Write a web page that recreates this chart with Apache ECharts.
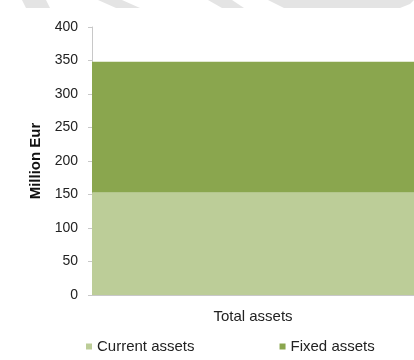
<!DOCTYPE html>
<html><head><meta charset="utf-8">
<script src="https://cdn.jsdelivr.net/npm/echarts@6/dist/echarts.min.js"></script>
<style>html,body{margin:0;padding:0;background:#fff}#c{width:414px;height:360px}</style>
</head><body><div id="c"></div>
<script>
var categories = ['Total assets'];
var currentAssets = [153];
var fixedAssets = [195];
var yTicks = [0, 50, 100, 150, 200, 250, 300, 350, 400];

var chart = echarts.init(document.getElementById('c'));
var font = 'Liberation Sans, Arial, sans-serif';
chart.setOption({
  animation: false,
  backgroundColor: '#ffffff',
  graphic: [
    {type:'polygon', shape:{points:[[22,0],[46,0],[50,8],[26,8]]}, style:{fill:'#e4e4e4'}},
    {type:'polygon', shape:{points:[[98,0],[122,0],[140,8],[116,8]]}, style:{fill:'#e4e4e4'}},
    {type:'polygon', shape:{points:[[208,0],[232,0],[244,8],[222,8]]}, style:{fill:'#e4e4e4'}},
    {type:'polygon', shape:{points:[[268,0],[414,0],[410,4],[400,8],[284,8]]}, style:{fill:'#e4e4e4'}}
  ],
  grid: {left: 92, right: -24, top: 27, bottom: 65, containLabel: false},
  legend: {
    data: ['Current assets', 'Fixed assets'],
    top: 334, left: 81,
    itemWidth: 6, itemHeight: 6, itemGap: 85, icon: 'rect',
    textStyle: {fontFamily: font, fontSize: 15, color: '#222'}
  },
  xAxis: {
    type: 'category', data: categories,
    axisLine: {show: true, lineStyle: {color: '#c8c8c8'}},
    axisTick: {show: false},
    axisLabel: {fontFamily: font, fontSize: 15, color: '#222', margin: 14}
  },
  yAxis: {
    type: 'value', min: yTicks[0], max: yTicks[yTicks.length-1], interval: 50,
    name: 'Million Eur', nameLocation: 'middle', nameGap: 48, nameRotate: 90,
    nameTextStyle: {fontFamily: font, fontSize: 15, fontWeight: 'bold', color: '#111'},
    axisLine: {show: true, lineStyle: {color: '#c8c8c8'}},
    axisTick: {show: true, length: 4, inside: false, lineStyle: {color: '#c8c8c8'}},
    splitLine: {show: false},
    axisLabel: {fontFamily: font, fontSize: 14, color: '#222', margin: 14}
  },
  series: [
    {name: 'Current assets', type: 'bar', stack: 'a', data: currentAssets, barWidth: '100%',
     itemStyle: {color: '#bccd98'}},
    {name: 'Fixed assets', type: 'bar', stack: 'a', data: fixedAssets, barWidth: '100%',
     itemStyle: {color: '#8aa64e'}}
  ]
});
</script></body></html>
